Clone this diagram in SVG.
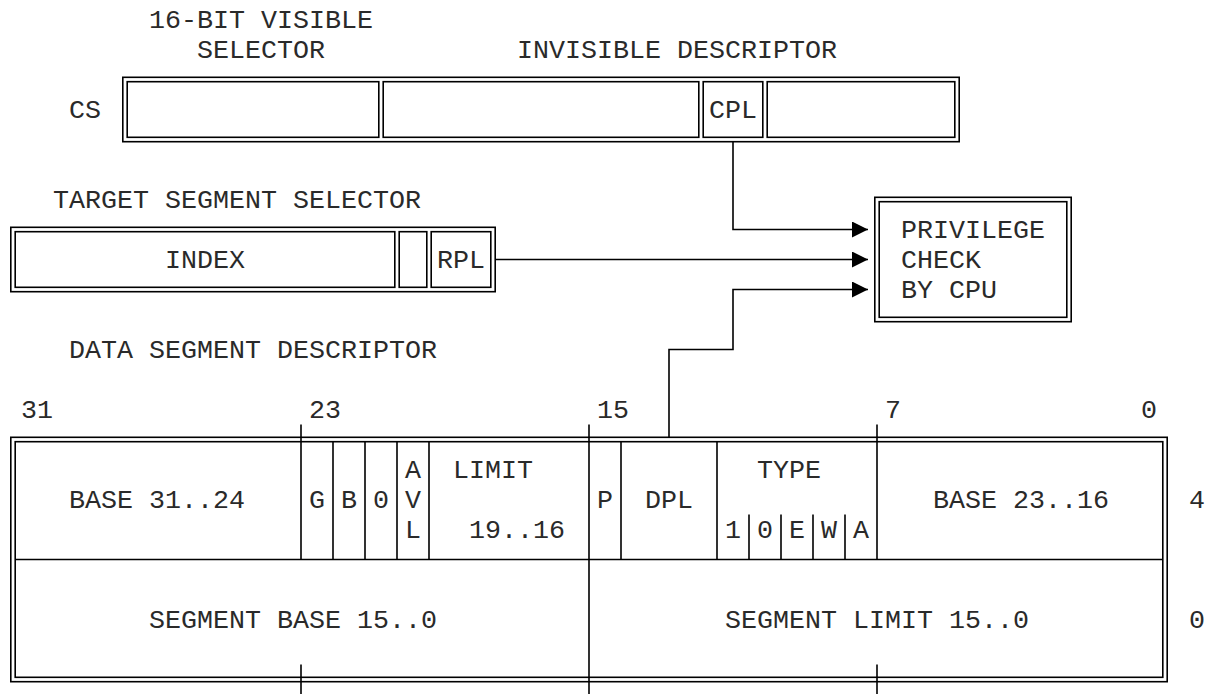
<svg xmlns="http://www.w3.org/2000/svg" width="1212" height="694" viewBox="0 0 1212 694">
  <style>
    .bg { fill: #ffffff; }
    .ln { fill: none; stroke: #000; stroke-width: 1.6; }
    .t { font-family: "Liberation Mono", "DejaVu Sans Mono", monospace; font-size: 26.67px; fill: #2a2a2a; white-space: pre; }
  </style>
  <defs>
    <marker id="arrow" markerUnits="userSpaceOnUse" markerWidth="16" markerHeight="16" viewBox="0 0 15 15" refX="15" refY="7.5" orient="auto">
      <path d="M0,0 L15,7.5 L0,15 Z" fill="#000"/>
    </marker>
  </defs>
  <rect class="bg" x="0" y="0" width="1212" height="694"/>

  <g id="cs-register">
    <text class="t" x="149" y="28">16-BIT VISIBLE</text>
    <text class="t" x="197" y="58">SELECTOR</text>
    <text class="t" x="517" y="58">INVISIBLE DESCRIPTOR</text>
    <text class="t" x="69" y="118">CS</text>
    <rect class="ln" x="122.8" y="77.3" width="836.4" height="64.4"/>
    <rect class="ln" x="127.2" y="81.7" width="251.6" height="55.6"/>
    <rect class="ln" x="383.2" y="81.7" width="315.6" height="55.6"/>
    <rect class="ln" x="703.2" y="81.7" width="59.6" height="55.6"/>
    <rect class="ln" x="767.2" y="81.7" width="187.6" height="55.6"/>
    <text class="t" x="709" y="118">CPL</text>
  </g>

  <g id="target-selector">
    <text class="t" x="53" y="208">TARGET SEGMENT SELECTOR</text>
    <rect class="ln" x="10.8" y="227.3" width="484.4" height="64.4"/>
    <rect class="ln" x="15.2" y="231.7" width="379.6" height="55.6"/>
    <rect class="ln" x="399.2" y="231.7" width="27.6" height="55.6"/>
    <rect class="ln" x="431.2" y="231.7" width="59.6" height="55.6"/>
    <text class="t" x="165" y="268">INDEX</text>
    <text class="t" x="437" y="268">RPL</text>
  </g>

  <g id="privilege-check">
    <rect class="ln" x="874.8" y="197.3" width="196.4" height="124.4"/>
    <rect class="ln" x="879.2" y="201.7" width="187.6" height="115.6"/>
    <text class="t" x="901" y="238">PRIVILEGE</text>
    <text class="t" x="901" y="268">CHECK</text>
    <text class="t" x="901" y="298">BY CPU</text>
  </g>

  <g id="data-descriptor">
    <text class="t" x="69" y="358">DATA SEGMENT DESCRIPTOR</text>
    <text class="t" x="21" y="418">31</text>
    <text class="t" x="309" y="418">23</text>
    <text class="t" x="597" y="418">15</text>
    <text class="t" x="885" y="418">7</text>
    <text class="t" x="1141" y="418">0</text>
    <rect class="ln" x="10.8" y="437.3" width="1156.4" height="244.4"/>
    <rect class="ln" x="15.2" y="441.7" width="1147.6" height="235.6"/>
    <path class="ln" d="M15.2 559.5 H1162.8"/>
    <path class="ln" d="M301 424.5 V559.5 M301 664.5 V694.5
                        M589 424.5 V694.5
                        M877 424.5 V559.5 M877 664.5 V694.5
                        M333 441.7 V559.5 M365 441.7 V559.5 M397 441.7 V559.5 M429 441.7 V559.5
                        M621 441.7 V559.5 M717 441.7 V559.5
                        M749 514.5 V559.5 M781 514.5 V559.5 M813 514.5 V559.5 M845 514.5 V559.5"/>
    <text class="t" x="405" y="478">A</text>
    <text class="t" x="453" y="478">LIMIT</text>
    <text class="t" x="757" y="478">TYPE</text>
    <text class="t" x="69" y="508">BASE 31..24</text>
    <text class="t" x="309" y="508">G</text>
    <text class="t" x="341" y="508">B</text>
    <text class="t" x="373" y="508">0</text>
    <text class="t" x="405" y="508">V</text>
    <text class="t" x="597" y="508">P</text>
    <text class="t" x="645" y="508">DPL</text>
    <text class="t" x="933" y="508">BASE 23..16</text>
    <text class="t" x="1189" y="508">4</text>
    <text class="t" x="405" y="538">L</text>
    <text class="t" x="469" y="538">19..16</text>
    <text class="t" x="725" y="538">1</text>
    <text class="t" x="757" y="538">0</text>
    <text class="t" x="789" y="538">E</text>
    <text class="t" x="821" y="538">W</text>
    <text class="t" x="853" y="538">A</text>
    <text class="t" x="149" y="628">SEGMENT BASE 15..0</text>
    <text class="t" x="725" y="628">SEGMENT LIMIT 15..0</text>
    <text class="t" x="1189" y="628">0</text>
  </g>

  <g id="connectors">
    <path class="ln" d="M733 141.7 V229.5 H868" marker-end="url(#arrow)"/>
    <path class="ln" d="M495.2 259.5 H868" marker-end="url(#arrow)"/>
    <path class="ln" d="M669 437.3 V349.5 H733 V289.5 H868" marker-end="url(#arrow)"/>
  </g>
</svg>
